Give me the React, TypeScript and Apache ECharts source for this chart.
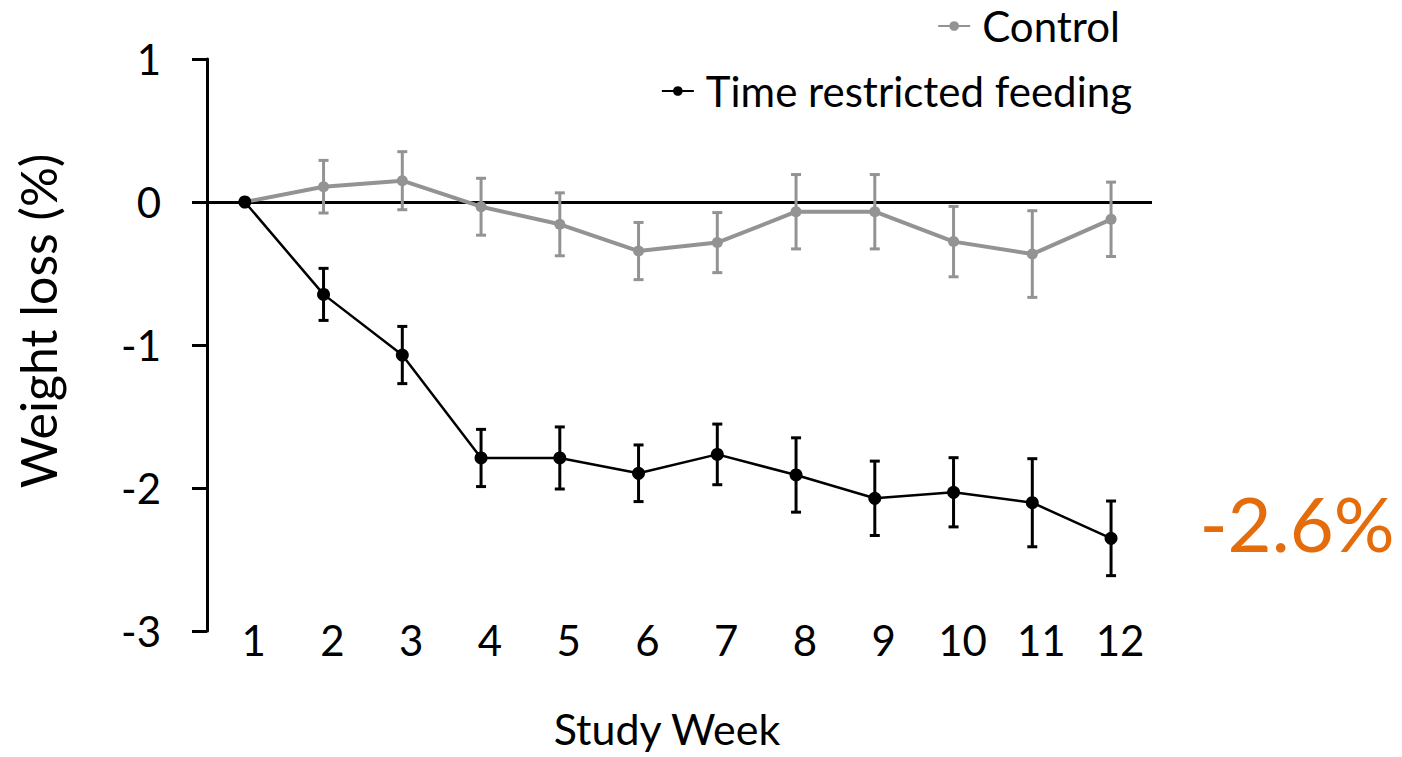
import React, { useEffect, useRef } from "react";
import * as echarts from "echarts";

// Study weeks and mean weight change (%) with standard error per group
const weeks = [1, 2, 3, 4, 5, 6, 7, 8, 9, 10, 11, 12];
const controlMean = [0, 0.107, 0.149, -0.033, -0.156, -0.343, -0.284, -0.068, -0.068, -0.277, -0.364, -0.121];
const controlErr = [0, 0.184, 0.203, 0.199, 0.22, 0.2, 0.21, 0.26, 0.26, 0.246, 0.303, 0.26];
const trfMean = [0, -0.646, -1.07, -1.79, -1.79, -1.897, -1.765, -1.909, -2.072, -2.03, -2.103, -2.352];
const trfErr = [0, 0.182, 0.2, 0.2, 0.217, 0.198, 0.212, 0.26, 0.26, 0.242, 0.308, 0.261];
const yTicks = [1, 0, -1, -2, -3];
const finalNote = "-2.6%";

const FONT = "Lato";
const GRAY = "#939393";
const BLACK = "#000000";
const ORANGE = "#E46C0A";

function errorSeries(name: string, mean: number[], err: number[], color: string, width: number) {
  const data = weeks
    .map((w, i) => [w, mean[i] - err[i], mean[i] + err[i]])
    .filter((_, i) => err[i] > 0);
  return {
    type: "custom",
    name: name + " error",
    data,
    z: 3,
    silent: true,
    renderItem: (params: any, api: any) => {
      const x = api.value(0);
      const lo = api.coord([x, api.value(1)]);
      const hi = api.coord([x, api.value(2)]);
      const cap = 5;
      const style = { stroke: color, lineWidth: width };
      return {
        type: "group",
        children: [
          { type: "line", shape: { x1: lo[0], y1: lo[1], x2: hi[0], y2: hi[1] }, style },
          { type: "line", shape: { x1: hi[0] - cap, y1: hi[1], x2: hi[0] + cap, y2: hi[1] }, style },
          { type: "line", shape: { x1: lo[0] - cap, y1: lo[1], x2: lo[0] + cap, y2: lo[1] }, style },
        ],
      };
    },
  };
}

export default function App() {
  const ref = useRef<HTMLDivElement>(null);

  useEffect(() => {
    if (!ref.current) return;
    const chart = echarts.init(ref.current, undefined, { renderer: "svg" });
    const legendText = { fontFamily: FONT, fontSize: 42, color: BLACK, padding: [0, 0, 0, 7] };
    chart.setOption({
      animation: false,
      textStyle: { fontFamily: FONT, color: BLACK },
      grid: { left: 207, right: 250, top: 59, bottom: 126, containLabel: false },
      legend: [
        {
          data: ["Control"],
          right: 277,
          top: 0,
          itemWidth: 32,
          itemHeight: 12,
          textStyle: legendText,
        },
        {
          data: ["Time restricted feeding"],
          right: 265,
          top: 65,
          itemWidth: 32,
          itemHeight: 12,
          textStyle: legendText,
        },
      ],
      xAxis: {
        type: "value",
        min: 0.52,
        max: 12.52,
        axisLine: { show: false },
        axisTick: { show: false },
        splitLine: { show: false },
        axisLabel: {
          customValues: weeks,
          fontFamily: FONT,
          fontSize: 42,
          color: BLACK,
          margin: -12,
          padding: [0, 0, 0, 18],
        },
      },
      yAxis: {
        type: "value",
        min: -3,
        max: 1,
        interval: 1,
        axisLine: { show: true, lineStyle: { color: BLACK, width: 3 } },
        axisTick: { show: true, length: 15, lineStyle: { color: BLACK, width: 3 }, customValues: yTicks },
        splitLine: { show: false },
        axisLabel: { fontFamily: FONT, fontSize: 42, color: BLACK, margin: 46 },
      },
      graphic: [
        {
          type: "text",
          x: 38,
          y: 321,
          rotation: Math.PI / 2,
          style: {
            text: "Weight loss (%)",
            fontFamily: FONT,
            fontSize: 50,
            fill: BLACK,
            align: "center",
            verticalAlign: "middle",
          },
        },
        {
          type: "text",
          x: 667,
          y: 728,
          style: {
            text: "Study Week",
            fontFamily: FONT,
            fontSize: 43,
            fill: BLACK,
            align: "center",
            verticalAlign: "middle",
          },
        },
        {
          type: "text",
          x: 1297,
          y: 522,
          style: {
            text: finalNote,
            fontFamily: FONT,
            fontWeight: 400,
            fontSize: 76,
            fill: ORANGE,
            align: "center",
            verticalAlign: "middle",
          },
        },
      ],
      series: [
        errorSeries("Control", controlMean, controlErr, GRAY, 3),
        errorSeries("Time restricted feeding", trfMean, trfErr, BLACK, 3),
        {
          type: "line",
          name: "Control",
          data: weeks.map((w, i) => [w, controlMean[i]]),
          symbol: "circle",
          symbolSize: 11,
          z: 4,
          itemStyle: { color: GRAY },
          lineStyle: { color: GRAY, width: 4 },
          markLine: {
            silent: true,
            symbol: "none",
            label: { show: false },
            lineStyle: { color: BLACK, width: 3, type: "solid" },
            data: [{ yAxis: 0 }],
            z: 2,
          },
        },
        {
          type: "line",
          name: "Time restricted feeding",
          data: weeks.map((w, i) => [w, trfMean[i]]),
          symbol: "circle",
          symbolSize: 13,
          z: 5,
          itemStyle: { color: BLACK },
          lineStyle: { color: BLACK, width: 2.5 },
        },
      ],
    });
    return () => chart.dispose();
  }, []);

  return (
    <div
      ref={ref}
      style={{ position: "fixed", left: 0, top: 0, width: 1402, height: 757, background: "#ffffff" }}
    />
  );
}
